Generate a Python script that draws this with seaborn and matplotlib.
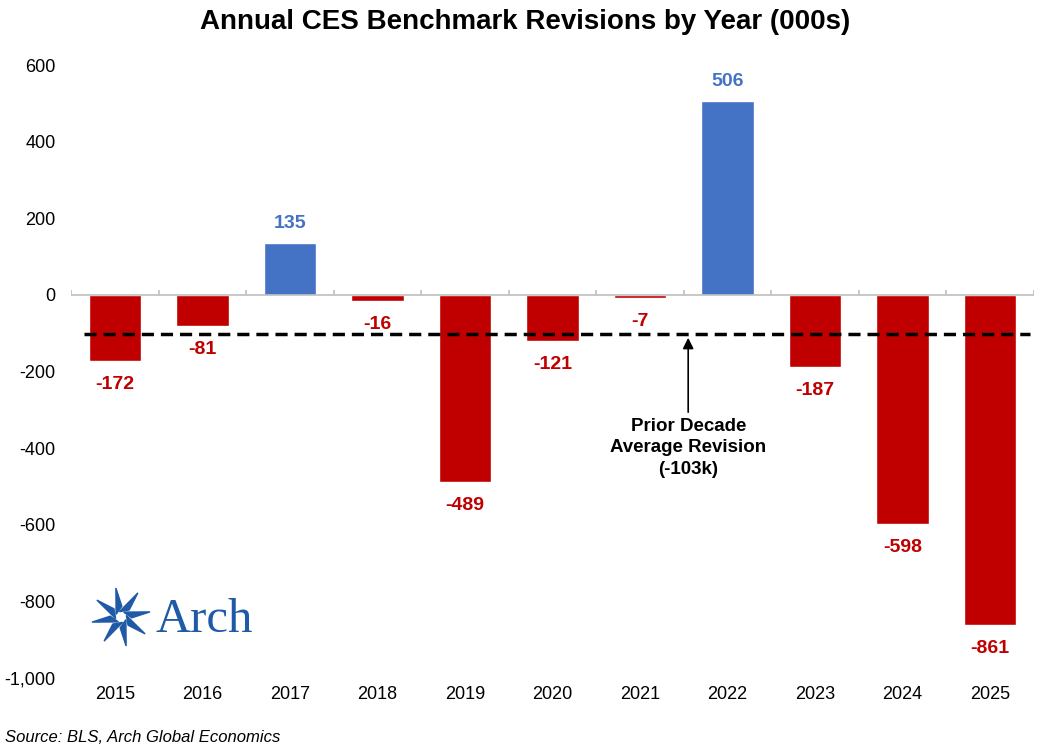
import numpy as np
import pandas as pd
import matplotlib
matplotlib.use("Agg")
import matplotlib.pyplot as plt
from matplotlib.patches import Polygon
import seaborn as sns

years = ["2015", "2016", "2017", "2018", "2019", "2020", "2021", "2022", "2023", "2024", "2025"]
revisions = [-172, -81, 135, -16, -489, -121, -7, 506, -187, -598, -861]
avg_revision = -103
y_ticks = [-1000, -800, -600, -400, -200, 0, 200, 400, 600]

RED = "#C00000"
BLUE = "#4472C4"

sns.set_theme(style="white")
plt.rcParams['font.family'] = ['Liberation Sans', 'DejaVu Sans']
plt.rcParams['text.color'] = 'black'
plt.rcParams['xtick.color'] = 'black'
plt.rcParams['ytick.color'] = 'black'

df = pd.DataFrame({"year": years, "rev": revisions})
df["sign"] = np.where(df["rev"] >= 0, "pos", "neg")

fig = plt.figure(figsize=(10.51, 7.51), dpi=100)
ax = fig.add_axes([71/1051, 1-678/751, (1034-71)/1051, (678-65)/751])

sns.barplot(data=df, x="year", y="rev", hue="sign", palette={"pos": BLUE, "neg": RED},
            dodge=False, width=0.6, legend=False, ax=ax, saturation=1)

ax.set_ylim(-1000, 600)
ax.set_xlim(-0.5, len(years) - 0.5)
ax.set_yticks(y_ticks)
ax.set_yticklabels([f"{v:,}" for v in y_ticks])
ax.set_xlabel("")
ax.set_ylabel("")
for s in ax.spines.values():
    s.set_visible(False)
ax.tick_params(axis="y", length=0, pad=11, labelsize=13)
ax.tick_params(axis="x", length=0, pad=6, labelsize=13)
ax.axhline(0, color="#BFBFBF", lw=1.2, zorder=1)
# category boundary ticks on the zero line
bounds = np.arange(len(years) + 1) - 0.5
ax.vlines(bounds, 0, 14, color="#BFBFBF", lw=1.2, zorder=1)

narrow = ['Liberation Sans Narrow', 'Liberation Sans', 'DejaVu Sans']
for i, v in enumerate(revisions):
    col = BLUE if v >= 0 else RED
    off = 14 if v >= 0 else -17
    ax.annotate(f"{v}", (i, v), xytext=(0, off), textcoords="offset points",
                ha="center", va="center", color=col, fontsize=14, fontweight="bold",
                family=narrow)

ax.plot([-0.35, 10.45], [avg_revision, avg_revision], color="black", lw=2.5,
        ls=(0, (3.5, 2)), zorder=3)

ax.annotate("Prior Decade\nAverage Revision\n(-103k)", xy=(6.55, -112), xytext=(6.55, -322),
            ha="center", va="top", fontsize=13.5, fontweight="bold", family=narrow,
            linespacing=1.32,
            arrowprops=dict(arrowstyle="-|>", color="black", lw=1.2, mutation_scale=16,
                            shrinkA=2, shrinkB=0))

fig.text(0.5, 1-22/751, "Annual CES Benchmark Revisions by Year (000s)", ha="center", va="center",
         fontsize=20, fontweight="bold", family=narrow)
fig.text(5/1051, 1-738/751, "Source: BLS, Arch Global Economics", ha="left", va="center",
         fontsize=12, style="italic")

# Arch logo
LOGO = "#1F5AA6"
lax = fig.add_axes([90/1051, 1-648/751, 62/1051, 62/751])
lax.set_xlim(-1, 1)
lax.set_ylim(-1, 1)
lax.set_aspect("equal")
lax.axis("off")
for k in range(8):
    a = np.deg2rad(k * 45 + 10)
    tip = np.array([np.cos(a), np.sin(a)]) * 0.95
    b1 = np.array([np.cos(a + 0.9), np.sin(a + 0.9)]) * 0.18
    b2 = np.array([np.cos(a - 0.25), np.sin(a - 0.25)]) * 0.35
    lax.add_patch(Polygon([tip, b1, b2], closed=True, color=LOGO))
fig.text(155/1051, 1-632/751, "Arch", ha="left", va="baseline", fontsize=35,
         family=['Liberation Serif', 'DejaVu Serif'], color=LOGO)

fig.savefig("out.png", dpi=100)
